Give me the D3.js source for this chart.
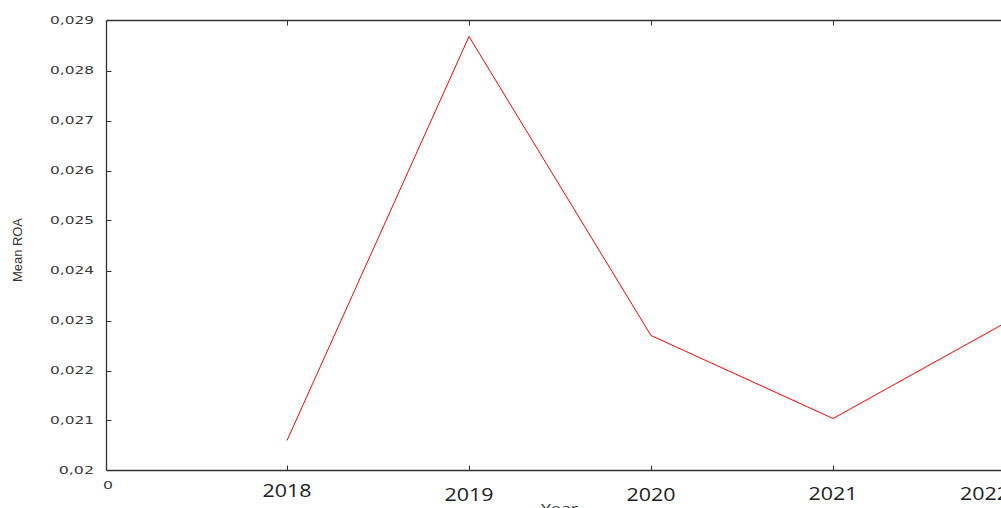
<!DOCTYPE html>
<html><head><meta charset="utf-8">
<script src="https://cdn.jsdelivr.net/npm/d3@7"></script>
<style>body{margin:0;background:#fff;overflow:hidden}svg{display:block}</style>
</head><body>
<svg id="c" width="1001" height="508"></svg>
<script>
const xTickLabels = ["0", "2018", "2019", "2020", "2021", "2022"];
const years = [2018, 2019, 2020, 2021, 2022];
const meanROA = [0.0206, 0.02868, 0.0227, 0.02104, 0.02306];
const yTicks = [0.020, 0.021, 0.022, 0.023, 0.024, 0.025, 0.026, 0.027, 0.028, 0.029];

(function () {
const svg = d3.select("#c");
const mLeft = 106.5, mTop = 20.5, mBottom = 470.5, step = 182;
const x = d3.scaleLinear().domain([1, 5]).range([287, 287 + 4 * step]);
const y = d3.scaleLinear().domain([0.02, 0.029]).range([mBottom, mTop]);
const fmt = v => d3.format(".3~f")(v).replace(".", ",");
const labelY = [485, 490.5, 495, 495, 494, 494];

// frame
svg.append("line").attr("x1", mLeft).attr("x2", 1001).attr("y1", mTop).attr("y2", mTop).attr("stroke", "#333").attr("stroke-width", 1.3);
svg.append("line").attr("x1", mLeft).attr("x2", 1001).attr("y1", mBottom).attr("y2", mBottom).attr("stroke", "#333").attr("stroke-width", 1.3);
svg.append("line").attr("x1", mLeft).attr("x2", mLeft).attr("y1", mTop).attr("y2", mBottom).attr("stroke", "#333").attr("stroke-width", 1.3);

// y axis ticks
const ya = svg.append("g");
ya.selectAll("line").data(yTicks.slice(1, -1)).join("line")
  .attr("x1", mLeft).attr("x2", mLeft + 5).attr("y1", d => Math.round(y(d)) + 0.5).attr("y2", d => Math.round(y(d)) + 0.5)
  .attr("stroke", "#333");
ya.selectAll("text").data(yTicks).join("text")
  .attr("x", 94).attr("y", d => y(d)).attr("dy", "0.36em").attr("text-anchor", "end")
  .attr("font-family", "DejaVu Sans, Verdana, sans-serif").attr("font-size", 11).attr("fill", "#3a3a3a")
  .attr("textLength", d => fmt(d).length * 8.8).attr("lengthAdjust", "spacingAndGlyphs")
  .text(d => fmt(d));

// x axis ticks (bottom & top, inward)
const xi = d3.range(1, 6);
svg.selectAll(".xb").data(xi).join("line").attr("class", "xb")
  .attr("x1", d => Math.round(x(d)) + 0.5).attr("x2", d => Math.round(x(d)) + 0.5).attr("y1", mBottom).attr("y2", mBottom - 5).attr("stroke", "#333");
svg.selectAll(".xt").data(xi).join("line").attr("class", "xt")
  .attr("x1", d => Math.round(x(d)) + 0.5).attr("x2", d => Math.round(x(d)) + 0.5).attr("y1", mTop).attr("y2", mTop + 5).attr("stroke", "#333");

// x labels
svg.append("text").attr("x", 108).attr("y", labelY[0]).attr("dy", "0.36em").attr("text-anchor", "middle")
  .attr("font-family", "DejaVu Sans, Verdana, sans-serif").attr("font-size", 11).attr("fill", "#3a3a3a")
  .attr("textLength", 10).attr("lengthAdjust", "spacingAndGlyphs").text(xTickLabels[0]);
svg.selectAll(".xl").data(xi).join("text").attr("class", "xl")
  .attr("x", d => d === 5 ? 1009 : x(d)).attr("y", d => labelY[d]).attr("dy", "0.36em")
  .attr("text-anchor", d => d === 5 ? "end" : "middle")
  .attr("font-family", "Open Sans, sans-serif").attr("font-size", 17.5).attr("fill", "#222")
  .attr("textLength", 49).attr("lengthAdjust", "spacingAndGlyphs")
  .text(d => xTickLabels[d]);

// axis titles
svg.append("text").attr("x", 559.5).attr("y", 513).attr("text-anchor", "middle")
  .attr("font-family", "Open Sans, sans-serif").attr("font-size", 13).attr("fill", "#333")
  .attr("textLength", 37).attr("lengthAdjust", "spacingAndGlyphs").text("Year");
svg.append("text").attr("transform", "translate(21.5,250) rotate(-90)").attr("text-anchor", "middle")
  .attr("font-family", "Liberation Sans Narrow, Arial Narrow, sans-serif").attr("font-size", 12.5).attr("fill", "#333")
  .attr("textLength", 64).attr("lengthAdjust", "spacingAndGlyphs").text("Mean ROA");

// line
const line = d3.line().x((d, i) => x(i + 1)).y(d => y(d));
svg.append("path").datum(meanROA).attr("d", line).attr("fill", "none").attr("stroke", "#ff0000").attr("stroke-width", 1);
})();
</script>
</body></html>
